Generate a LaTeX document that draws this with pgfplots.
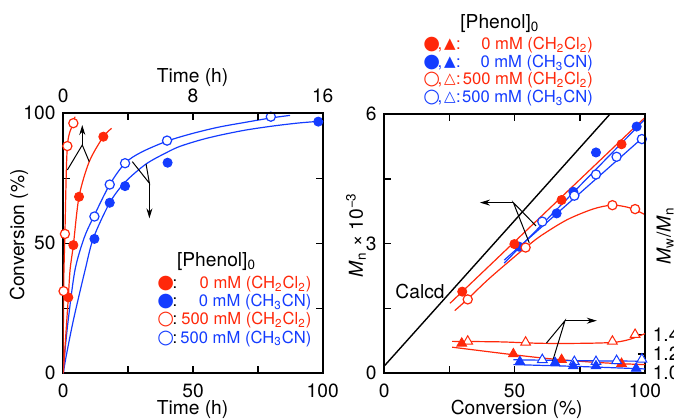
\documentclass[border=0pt]{standalone}
\usepackage{pgfplots}
\pgfplotsset{compat=1.18}
\usetikzlibrary{arrows.meta}
\usepackage{fontspec}
\setmainfont{TeX Gyre Heros}
\newfontfamily\sym{DejaVu Sans}
\definecolor{cred}{RGB}{255,40,10}
\definecolor{cblue}{RGB}{20,60,255}
\newcommand{\fc}{{\fontsize{9.6}{9.6}\sym ●}}
\newcommand{\oc}{{\fontsize{9.6}{9.6}\sym ○}}
\newcommand{\ft}{{\fontsize{7.5}{7.5}\sym ▲}}
\newcommand{\ot}{{\fontsize{7.5}{7.5}\sym △}}
\newcommand{\lf}{\fontsize{8.3}{10}\selectfont}
\begin{document}
\fontsize{9.6}{11.5}\selectfont
\begin{tikzpicture}[txt/.style={inner sep=0pt}]
\path[use as bounding box] (0pt,0pt) rectangle (337pt,209pt);
\pgfplotsset{
  base/.style={
    scale only axis, anchor=south west,
    axis line style={line width=0.9pt},
    tick style={line width=0.8pt, black},
    major tick length=3.5pt,
    tick align=inside,
    /pgf/number format/assume math mode=true,
    tick label style={font=\fontsize{9.6}{11.5}\selectfont},
    xticklabel shift=2pt,
    yticklabel shift=0.5pt,
  },
  fmark/.style={only marks, mark=*, mark size=2.3pt, mark options={solid, line width=0.4pt}},
  omark/.style={only marks, mark=*, mark size=2.3pt, mark options={solid, fill=white, line width=0.6pt}},
  ftri/.style={only marks, mark=triangle*, mark size=2.8pt, mark options={solid, line width=0.4pt}},
  otri/.style={only marks, mark=triangle*, mark size=2.8pt, mark options={solid, fill=white, line width=0.5pt}},
  fit/.style={line width=0.6pt, smooth, tension=0.5, no marks},
  lin/.style={line width=0.6pt, no marks},
}
% ---------------- left panel, bottom time axis (0-100 h) ----------------
\begin{axis}[base, at={(31.65pt,22.35pt)}, width=129.7pt, height=130pt,
  xmin=0, xmax=100, ymin=0, ymax=100,
  xtick={0,25,50,75,100}, xticklabels={0,,50,,100}, xtick pos=bottom,
  ytick={0,25,50,75,100}, yticklabels={0,,50,,100},
]
\addplot[cblue, fit] coordinates {(0,0) (1,6) (3.9,20.5) (8.4,39.7) (11.6,52) (17.9,65.6) (23.8,73.5) (31.9,80.5) (40,85) (45,87.3) (52.7,89.7) (60,91.5) (70,93.5) (80,95) (90,96.2) (98.3,96.9)};
\addplot[cblue, fit] coordinates {(0,0) (0.5,7) (1.9,20.5) (4.5,39.7) (8,52) (11.6,60) (17.9,72.6) (23.8,80.8) (30,85) (40,89.3) (50,92.3) (60,94.7) (70,96.5) (80,98.2) (87.4,99.2)};
\addplot[cblue, fmark] coordinates {(12,51.7) (17.9,65.6) (23.8,72) (40.2,81) (98.3,96.8)};
\addplot[cblue, omark] coordinates {(12,60.3) (17.9,72.6) (23.8,80.8) (40,89.5) (80,98.7)};
\draw[line width=0.5pt] (axis cs:26.6,81.4) -- (axis cs:33.2,73.1) -- (axis cs:31.9,80.5);
\draw[line width=0.5pt, -{Stealth[length=5pt,width=3pt]}] (axis cs:33.2,73.1) -- (axis cs:33.2,59.6);
\end{axis}
% ---------------- left panel, top time axis (0-16 h) ----------------
\begin{axis}[base, at={(31.65pt,22.35pt)}, width=129.7pt, height=130pt,
  xmin=0, xmax=16, ymin=0, ymax=100,
  axis x line*=top, axis y line=none,
  xtick={0,4,8,12,16}, xticklabels={0,,8,,16},
]
\addplot[cred, fit] coordinates {(0,0) (0.017,31.6) (0.1,53.6) (0.25,87.4) (0.62,96.2) (0.72,98.7)};
\addplot[cred, fit] coordinates {(0,0) (0.2,19) (0.31,29.2) (0.42,40) (0.62,49.3) (0.97,67.9) (1.6,81.4) (2.47,91) (2.98,94.2)};
\addplot[cred, fmark] coordinates {(0.31,29.2) (0.62,49.3) (0.97,67.9) (2.47,91)};
\addplot[cred, omark] coordinates {(0.017,31.6) (0.1,53.6) (0.25,87.4) (0.62,96.2)};
\draw[line width=0.5pt] (axis cs:0.25,78.2) -- (axis cs:1.17,87.8) -- (axis cs:1.6,81.4);
\draw[line width=0.5pt, -{Stealth[length=5pt,width=3pt]}] (axis cs:1.17,87.8) -- (axis cs:1.17,95.5);
\end{axis}
% ---------------- right panel, Mn ----------------
\begin{axis}[base, at={(192.15pt,22.35pt)}, width=130.35pt, height=129.65pt,
  xmin=0, xmax=100, ymin=0, ymax=6,
  xtick={0,25,50,75,100}, xticklabels={0,,50,,100},
  ytick={0,1.5,3,4.5,6}, yticklabels={0,,3,,6}, ytick pos=left,
]
\addplot[black, lin, line width=0.7pt] coordinates {(0,0.17) (86.6,6)};
\addplot[cred, lin] coordinates {(25.2,1.62) (100,5.92)};
\addplot[cred, fit] coordinates {(27,1.45) (32,1.72) (40,2.18) (50,2.7) (54,2.9) (60,3.18) (70,3.55) (80,3.8) (87,3.89) (92,3.86) (96,3.79) (100,3.67)};
\addplot[cblue, lin] coordinates {(46,2.55) (100,5.88)};
\addplot[cblue, lin] coordinates {(46,2.62) (100,5.5)};
\addplot[cblue, fmark] coordinates {(51.7,2.93) (66.1,3.70) (72.5,4.20) (81.2,5.11) (96.8,5.71)};
\addplot[cred, fmark] coordinates {(29.9,1.89) (49.9,2.99) (68,4.01) (91,5.30)};
\addplot[cblue, omark] coordinates {(60.6,3.51) (72.9,4.11) (81.2,4.60) (89.1,5.01) (98.8,5.42)};
\addplot[cred, omark] coordinates {(32,1.71) (54.2,2.91) (87.5,3.89) (96.2,3.80)};
\draw[line width=0.5pt] (axis cs:55.6,3.02) -- (axis cs:49.5,3.95) -- (axis cs:58.2,3.41);
\draw[line width=0.5pt, -{Stealth[length=5pt,width=3pt]}] (axis cs:49.5,3.95) -- (axis cs:36.7,3.95);
\end{axis}
% ---------------- right panel, Mw/Mn ----------------
\begin{axis}[base, at={(192.15pt,22.35pt)}, width=130.35pt, height=129.65pt,
  xmin=0, xmax=100, ymin=1, ymax=3.681,
  axis y line*=right, axis x line=none,
  ytick={1,1.2,1.4}, yticklabels={1.0,1.2,1.4},
]
\addplot[cred, fit] coordinates {(26,1.33) (44.4,1.325) (60,1.31) (76.3,1.31) (88,1.32) (94,1.35) (100,1.41)};
\addplot[cred, fit] coordinates {(26,1.27) (35,1.24) (47,1.20) (60,1.16) (70,1.135) (80,1.115) (90,1.10) (100,1.09)};
\addplot[cblue, fit] coordinates {(49.5,1.14) (75,1.13) (100,1.125)};
\addplot[cblue, fit] coordinates {(49.5,1.09) (75,1.07) (100,1.045)};
\addplot[cred, otri] coordinates {(32,1.33) (54.2,1.32) (87.5,1.33) (96.2,1.40)};
\addplot[cred, ftri] coordinates {(29.7,1.31) (49.5,1.20) (68,1.14) (91,1.10)};
\addplot[cblue, otri] coordinates {(60.6,1.14) (72.9,1.12) (81.2,1.12) (89.1,1.13) (98.8,1.145)};
\addplot[cblue, ftri] coordinates {(52,1.12) (65.5,1.11) (72.5,1.075) (81.2,1.075) (96.6,1.05)};
\draw[line width=0.5pt] (axis cs:62.2,1.313) -- (axis cs:69.3,1.544) -- (axis cs:64.5,1.12);
\draw[line width=0.5pt, -{Stealth[length=5pt,width=3pt]}] (axis cs:69.3,1.544) -- (axis cs:81.5,1.544);
\end{axis}
% ---------------- axis titles ----------------
\node at (96.25pt,170pt) {Time (h)};
\node[txt, anchor=base] at (96.25pt,1.6pt) {Time (h)};
\node[rotate=90] at (9.5pt,91.5pt) {Conversion (\%)};
\node[txt, anchor=base] at (258.3pt,1.6pt) {Conversion (\%)};
\node[rotate=90] at (178pt,91.5pt) {\textit{M}\textsubscript{n} × 10\textsuperscript{−3}};
\node[rotate=90] at (332.5pt,91pt) {\textit{M}\textsubscript{w}/\textit{M}\textsubscript{n}};
\node at (210pt,63.5pt) {Calcd};
% ---------------- left legend ----------------
\node[txt, anchor=base west] at (88.35pt,75.65pt) {[Phenol]\textsubscript{0}};
\foreach \yc/\yb/\col/\ma/\lab in {
  67.35/64.85/cred/\fc/{0 mM (CH\textsubscript{2}Cl\textsubscript{2})},
  58.15/55.7/cblue/\fc/{0 mM (CH\textsubscript{3}CN)},
  49/46.55/cred/\oc/{500 mM (CH\textsubscript{2}Cl\textsubscript{2})},
  39.85/37.4/cblue/\oc/{500 mM (CH\textsubscript{3}CN)}}{
  \node[\col] at (82.85pt,\yc pt) {\ma};
  \node[txt, anchor=base] at (87.5pt,\yb pt) {\lf :};
  \node[txt, \col, anchor=base east] at (155.85pt,\yb pt) {\lf \lab};
}
% ---------------- right legend ----------------
\node[txt, anchor=base west] at (230pt,194.85pt) {[Phenol]\textsubscript{0}};
\foreach \yc/\yb/\col/\ma/\mb/\lab in {
  186.5/184/cred/\fc/\ft/{0 mM (CH\textsubscript{2}Cl\textsubscript{2})},
  177.85/175.35/cblue/\fc/\ft/{0 mM (CH\textsubscript{3}CN)},
  169/166.5/cred/\oc/\ot/{500 mM (CH\textsubscript{2}Cl\textsubscript{2})},
  160.15/157.65/cblue/\oc/\ot/{500 mM (CH\textsubscript{3}CN)}}{
  \node[\col] at (215.85pt,\yc pt) {\ma};
  \node[txt, \col, anchor=base] at (220pt,\yb pt) {\lf ,};
  \node[\col] at (225pt,\yc pt) {\mb};
  \node[txt, \col, anchor=base] at (229.2pt,\yb pt) {\lf :};
  \node[txt, \col, anchor=base east] at (296.65pt,\yb pt) {\lf \lab};
}
\end{tikzpicture}
\end{document}
